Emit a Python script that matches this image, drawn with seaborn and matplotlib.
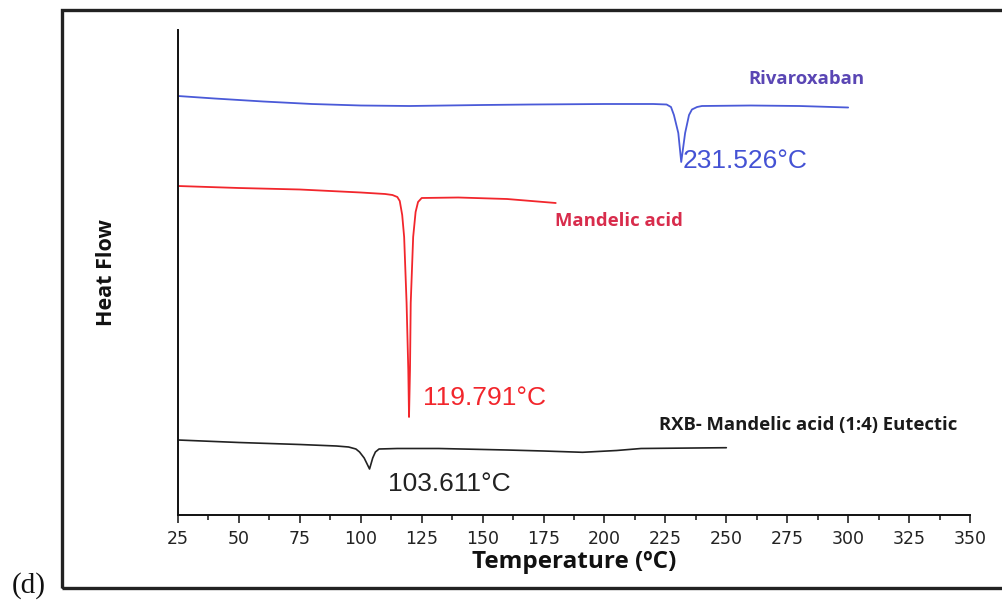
import matplotlib
matplotlib.use("Agg")
from matplotlib import pyplot as plt
from matplotlib.patches import Rectangle
from matplotlib.ticker import MultipleLocator
import pandas as pd
import seaborn as sns

# DSC traces (heat flow in arbitrary units, stacked)
riva_T = [25, 40, 60, 80, 100, 120, 150, 170, 200, 220, 225.5, 227.3, 228.5,
          230.3, 231.5, 233.1, 234.7, 235.9, 238, 240, 260, 280, 300]
riva_hf = [419, 416.5, 413.5, 411, 409.5, 409, 410, 410.5, 411, 411, 410.5,
           408, 400, 382, 353, 382, 400, 405.5, 408, 409, 409.5, 409, 407.5]

mand_T = [25, 50, 75, 100, 110, 113, 115, 116.0, 117.0, 117.8, 118.8, 119.5,
          119.8, 120.2, 120.5, 121.5, 122.5, 123.5, 125, 140, 160, 180]
mand_hf = [329, 327, 325.5, 322.5, 321, 320, 318, 314, 300, 278, 212, 145, 98,
           145, 212, 278, 303, 313, 317, 317.5, 316, 312]

eut_T = [25, 50, 75, 90, 95, 98, 99.5, 101.4, 103.6, 104.9, 106, 107.5, 115,
         132, 160, 175, 191, 205, 215, 250]
eut_hf = [75, 72.5, 70.5, 69, 68, 66, 63, 57, 46, 57, 63, 66, 66.5, 66.5, 65,
          64, 62.7, 64.5, 66.5, 67.3]

x_ticks = list(range(25, 351, 25))

sns.set_theme(style="ticks")
plt.rcParams['font.family'] = ['Liberation Sans', 'DejaVu Sans']

fig = plt.figure(figsize=(10.02, 6.06), dpi=100)
ax = fig.add_axes([178 / 1002, 1 - 515 / 606, 792 / 1002, 485 / 606])

sns.lineplot(x=riva_T, y=riva_hf, color="#4a5ad8", lw=1.3, ax=ax, sort=False)
sns.lineplot(x=mand_T, y=mand_hf, color="#f2262c", lw=1.3, ax=ax, sort=False)
sns.lineplot(x=eut_T, y=eut_hf, color="#222222", lw=1.2, ax=ax, sort=False)

ax.set_xlim(25, 350)
ax.set_ylim(0, 485)
ax.set_xticks(x_ticks)
ax.xaxis.set_minor_locator(MultipleLocator(12.5))
ax.set_yticks([])
ax.tick_params(axis='x', which='major', direction='out', length=6, width=1.2,
               color='#222', labelsize=12.5, pad=5, labelcolor='#222')
ax.tick_params(axis='x', which='minor', direction='out', length=3.5, width=1.2,
               color='#222')
for lbl in ax.get_xticklabels():
    lbl.set_family(['DejaVu Sans'])
for s in ['top', 'right']:
    ax.spines[s].set_visible(False)
for s in ['left', 'bottom']:
    ax.spines[s].set_color('#111')
    ax.spines[s].set_linewidth(1.4)

bold_font = ['Open Sans', 'DejaVu Sans']
ax.set_xlabel("Temperature (ºC)", fontsize=17.5, fontweight='bold',
              family=bold_font, labelpad=1, color='#111')
ax.set_ylabel("Heat Flow", fontsize=15.5, fontweight='bold',
              family=bold_font, labelpad=44, color='#111')

# peak temperatures
ax.text(232.2, 354, "231.526°C", fontsize=19, color="#4452d4", va='center')
ax.text(125.5, 117, "119.791°C", fontsize=19, color="#f2262c", va='center')
ax.text(111.2, 31, "103.611°C", fontsize=19, color="#222222", va='center')

# curve names
ax.text(258.9, 436, "Rivaroxaban", fontsize=13.3, fontweight='bold',
        color="#5a46b4", va='center', family=bold_font)
ax.text(179.7, 294, "Mandelic acid", fontsize=13.3, fontweight='bold',
        color="#d82c4c", va='center', family=bold_font)
ax.text(222.4, 90, "RXB- Mandelic acid (1:4) Eutectic", fontsize=13.3,
        fontweight='bold', color="#1a1a1a", va='center', family=bold_font)

# outer frame and panel letter
fig.patches.append(Rectangle((62 / 1002, 1 - 588 / 606), 1.0, 578 / 606,
                             transform=fig.transFigure, fill=False,
                             lw=2.4, ec='#222', clip_on=False))
fig.text(12 / 1002, 1 - 593 / 606, "(d)", fontsize=21,
         family=['Liberation Serif', 'DejaVu Serif'], color='#111', va='baseline')

plt.savefig("out.png", dpi=100)
plt.close()
